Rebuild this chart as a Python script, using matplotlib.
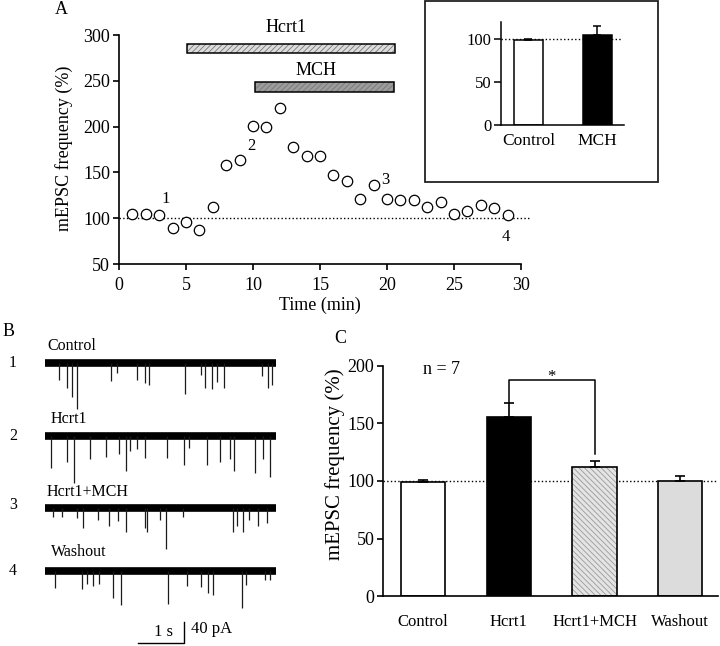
import matplotlib.pyplot as plt
from matplotlib.patches import Rectangle

plt.rcParams['font.family'] = ['Liberation Serif', 'DejaVu Serif']
plt.rcParams['hatch.linewidth'] = 0.6

# --- panel A: time course ---
time_min = list(range(1, 30))
freq_pct = [105, 105, 104, 89, 96, 87, 112, 158, 164, 201, 200, 220, 178, 168, 168,
            147, 141, 121, 136, 121, 120, 120, 112, 118, 105, 108, 114, 111, 103]
point_labels = ['1', '2', '3', '4']
point_label_xy = [(3.5, 121), (9.9, 179), (19.9, 142), (28.9, 79)]
hcrt1_period = (5.05, 20.6)
mch_period = (10.15, 20.5)

# inset of panel A
inset_groups = ['Control', 'MCH']
inset_mean = [99, 105]
inset_sem = [1.5, 10]

# --- panel C: summary ---
groups = ['Control', 'Hcrt1', 'Hcrt1+MCH', 'Washout']
mean_pct = [99, 155.5, 112, 100]
sem_pct = [2, 12.4, 5.5, 4.7]

# --- panel B: example traces (event time in s, amplitude in pA) ---
trace_names = ['Control', 'Hcrt1', 'Hcrt1+MCH', 'Washout']
event_times = [
    [0.30, 0.48, 0.59, 0.70, 1.43, 1.57, 1.99, 2.18, 2.26, 3.05, 3.39, 3.48, 3.62,
     3.73, 3.90, 4.71, 4.85, 4.94],
    [0.13, 0.47, 0.62, 0.98, 1.32, 1.61, 1.76, 1.85, 1.99, 2.18, 2.65, 3.03, 3.12,
     3.52, 3.81, 4.02, 4.11, 4.57, 4.73, 4.89],
    [0.18, 0.38, 0.69, 0.83, 1.16, 1.39, 1.59, 1.76, 2.17, 2.21, 2.50, 2.63, 3.01,
     4.08, 4.17, 4.31, 4.44, 4.62, 4.82],
    [0.22, 0.81, 0.91, 1.05, 1.17, 1.48, 1.65, 2.68, 3.08, 3.39, 3.55, 3.66, 4.29,
     4.37, 4.78, 4.89],
]
event_amps = [
    [33, 48, 65, 88, 35, 20, 33, 39, 42, 60, 23, 48, 49, 36, 47, 25, 48, 41],
    [61, 50, 90, 44, 41, 35, 67, 29, 25, 42, 42, 55, 23, 55, 49, 44, 67, 70, 44, 79],
    [17, 17, 19, 38, 22, 34, 24, 45, 37, 45, 22, 78, 16, 45, 34, 45, 22, 34, 28],
    [32, 34, 24, 28, 24, 51, 64, 62, 28, 30, 41, 45, 70, 26, 17, 17],
]
trace_length_s = 5.02
scale_time_s = 1
scale_current_pA = 40

W, H = 720, 646


def fx(x):
    return x / W


def fy(y):
    return 1 - y / H


fig = plt.figure(figsize=(7.2, 6.46), dpi=100)

# ---------------- panel A ----------------
ax = fig.add_axes([fx(119), fy(264), 402 / W, 229 / H])
ax.plot([0, 30.7], [100, 100], color='black', ls=':', lw=1, clip_on=False, zorder=1)
ax.plot(time_min, freq_pct, 'o', mfc='white', mec='black', ms=7.5, mew=0.9,
        clip_on=False, zorder=3)
for lab, (x, y) in zip(point_labels, point_label_xy):
    ax.text(x, y, lab, fontsize=12, ha='center', va='center')

# drug application bars
for (start, end), y, fc in [(hcrt1_period, 285.2, '#dcdcdc'), (mch_period, 243.2, '#9c9c9c')]:
    ax.barh(y, end - start, left=start, height=10.5, color=fc, hatch='//////',
            edgecolor='#777777', lw=0, clip_on=False)
    ax.barh(y, end - start, left=start, height=10.5, fill=False,
            edgecolor='black', lw=1.1, clip_on=False)
ax.text(12.5, 308, 'Hcrt1', fontsize=13, ha='center', va='center')
ax.text(14.7, 260.7, 'MCH', fontsize=13, ha='center', va='center')

ax.set_xlim(0, 30)
ax.set_ylim(50, 300)
ax.set_xticks(range(0, 31, 5))
ax.set_yticks(range(50, 301, 50))
for s in ['top', 'right']:
    ax.spines[s].set_visible(False)
for s in ['left', 'bottom']:
    ax.spines[s].set_linewidth(1.2)
ax.tick_params(labelsize=13, width=1.2, length=4.5, pad=2)
ax.tick_params(axis='x', pad=5)
ax.set_facecolor('none')
fig.text(fx(320), fy(305), 'Time (min)', fontsize=13, ha='center', va='center')
fig.text(fx(64), fy(148), 'mEPSC frequency (%)', fontsize=13, rotation=90,
         ha='center', va='center')
fig.text(fx(61), fy(9), 'A', fontsize=13, ha='center', va='center')

# inset box and inset bars
fig.add_artist(Rectangle((fx(425), fy(182)), 233 / W, 181 / H, transform=fig.transFigure,
                         fill=False, lw=1.3, ec='#222222'))
ax_in = fig.add_axes([fx(501), fy(125), 123 / W, 102.8 / H])
ax_in.bar(range(2), inset_mean, width=0.42, color=['white', 'black'], edgecolor='black',
          lw=1.1, zorder=2)
ax_in.errorbar(range(2), inset_mean, yerr=[[0, 0], inset_sem], fmt='none', ecolor='black',
               elinewidth=1.1, capsize=3, capthick=1.1, zorder=3)
ax_in.plot([-0.4, 1.35], [100, 100], color='black', ls=':', lw=1, zorder=1, clip_on=False)
ax_in.set_xlim(-0.4, 1.39)
ax_in.set_ylim(0, 120)
ax_in.set_yticks([0, 50, 100])
ax_in.set_xticks(range(2), inset_groups)
for s in ['top', 'right']:
    ax_in.spines[s].set_visible(False)
for s in ['left', 'bottom']:
    ax_in.spines[s].set_linewidth(1.1)
ax_in.tick_params(axis='y', labelsize=12, width=1.1, length=5, pad=2)
ax_in.tick_params(axis='x', labelsize=12.5, length=0, pad=6)

# ---------------- panel B ----------------
ax_b = fig.add_axes([0, 0, 300 / W, 326 / H])
ax_b.axis('off')
ax_b.set_xlim(-0.978, 5.543)
ax_b.set_ylim(-539.1, 81.9)
offsets = [0, -139, -277, -397]
for times, amps, off in zip(event_times, event_amps, offsets):
    ax_b.plot([0, trace_length_s], [off, off], color='black', lw=5.5, solid_capstyle='butt')
    ax_b.vlines(times, off, [off - a for a in amps], color='#1a1a1a', lw=0.9)
# scale bar
sb_x, sb_y = 2.02, -532.8
ax_b.plot([sb_x, sb_x + scale_time_s, sb_x + scale_time_s],
          [sb_y, sb_y, sb_y + scale_current_pA], color='black', lw=1, clip_on=False)
fig.text(fx(163), fy(632), '1 s', fontsize=12, ha='center', va='center')
fig.text(fx(191), fy(629), '40 pA', fontsize=12, ha='left', va='center')

name_pos = [(47, 346), (51, 419), (47, 492), (51, 552)]
num_pos = [363, 436, 505, 571]
for i, name in enumerate(trace_names):
    fig.text(fx(name_pos[i][0]), fy(name_pos[i][1]), name, fontsize=11.5,
             ha='left', va='center')
    fig.text(fx(13), fy(num_pos[i]), str(i + 1), fontsize=11.5, ha='center', va='center')
fig.text(fx(9), fy(331), 'B', fontsize=13, ha='center', va='center')

# ---------------- panel C ----------------
ax_c = fig.add_axes([fx(383.3), fy(596.3), 334.7 / W, 230.6 / H])
xs = range(len(groups))
fills = ['white', 'black', '#e4e4e4', '#dcdcdc']
hatches = [None, None, '\\\\\\\\\\\\', None]
for x, m, fc, h in zip(xs, mean_pct, fills, hatches):
    if h:
        ax_c.bar(x, m, width=0.517, color=fc, hatch=h, edgecolor='#9a9a9a', lw=0, zorder=2)
        ax_c.bar(x, m, width=0.517, fill=False, edgecolor='black', lw=1.2, zorder=2)
    else:
        ax_c.bar(x, m, width=0.517, color=fc, edgecolor='black', lw=1.2, zorder=2)
ax_c.errorbar(xs, mean_pct, yerr=[[0] * 4, sem_pct], fmt='none', ecolor='black',
              elinewidth=1.2, capsize=3.5, capthick=1.2, zorder=3)
ax_c.plot([-0.466, 3.44], [100, 100], color='black', ls=':', lw=1, zorder=1)

# significance bracket
ax_c.plot([1, 1, 2, 2], [168, 187.3, 187.3, 123.4], color='black', lw=1.1)
ax_c.text(1.5, 190, '*', fontsize=12, ha='center', va='center')
ax_c.text(0.216, 197, 'n = 7', fontsize=13, ha='center', va='center')

ax_c.set_xlim(-0.466, 3.44)
ax_c.set_ylim(0, 200)
ax_c.set_yticks(range(0, 201, 50))
ax_c.set_xticks(list(xs), groups)
for s in ['top', 'right']:
    ax_c.spines[s].set_visible(False)
for s in ['left', 'bottom']:
    ax_c.spines[s].set_linewidth(1.2)
ax_c.tick_params(axis='y', labelsize=13, width=1.2, length=4.5, pad=2)
ax_c.tick_params(axis='x', labelsize=12, length=0, pad=13)
fig.text(fx(335), fy(464), 'mEPSC frequency (%)', fontsize=15, rotation=90,
         ha='center', va='center')
fig.text(fx(340), fy(339), 'C', fontsize=13, ha='center', va='center')

fig.savefig('out.png', dpi=100)
